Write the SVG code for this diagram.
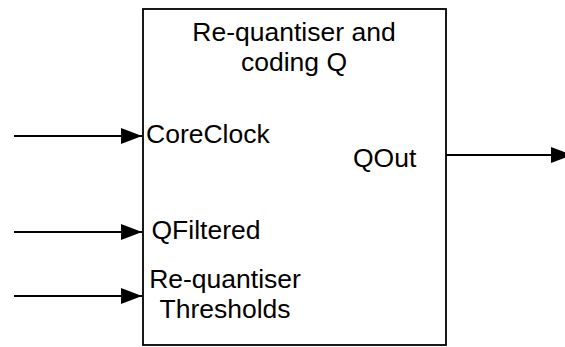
<svg xmlns="http://www.w3.org/2000/svg" width="565" height="347" viewBox="0 0 565 347">
<defs>
<marker id="ah" markerUnits="userSpaceOnUse" markerWidth="22" markerHeight="16" refX="21" refY="8" orient="auto">
<path d="M0,0 L21,8 L0,16 Z" fill="#000"/>
</marker>
<style>
.lbl{font-family:"Liberation Sans",Arial,sans-serif;font-size:26.5px;fill:#000}
.c{text-anchor:middle}
.box{fill:#fff;stroke:#000;stroke-width:1.8}
.wire{stroke:#000;stroke-width:1.8;fill:none;marker-end:url(#ah)}
</style>
</defs>
<rect width="565" height="347" fill="#fff"/>
<g id="node-q">
<rect class="box" x="143" y="9" width="303" height="336"/>
<text class="lbl c" x="294" y="40.5">Re-quantiser and</text>
<text class="lbl c" x="294" y="71">coding Q</text>
<text class="lbl" x="146" y="143">CoreClock</text>
<text class="lbl" x="353" y="166.5">QOut</text>
<text class="lbl" x="151.5" y="239.3">QFiltered</text>
<text class="lbl c" x="225" y="287.7">Re-quantiser</text>
<text class="lbl c" x="225" y="318.3">Thresholds</text>
</g>
<g id="connectors">
<line class="wire" x1="14" y1="136" x2="142" y2="136"/>
<line class="wire" x1="14" y1="232" x2="142" y2="232"/>
<line class="wire" x1="14" y1="296" x2="142" y2="296"/>
<line class="wire" x1="446" y1="155" x2="572" y2="155"/>
</g>
</svg>
